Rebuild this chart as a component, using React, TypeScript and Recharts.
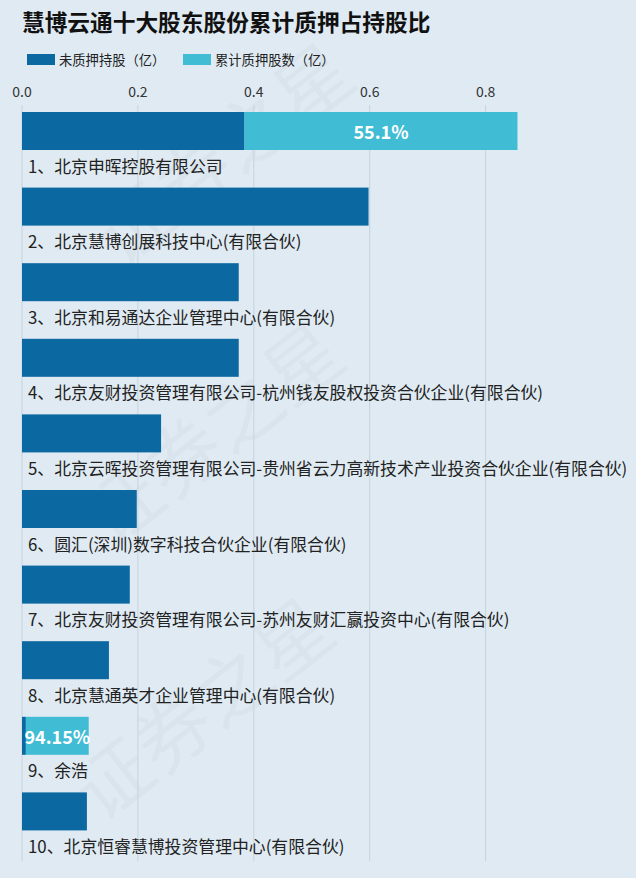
import React from 'react';
import { BarChart, Bar, XAxis, YAxis, CartesianGrid, LabelList } from 'recharts';

const categories = [
  '1、北京申晖控股有限公司',
  '2、北京慧博创展科技中心(有限合伙)',
  '3、北京和易通达企业管理中心(有限合伙)',
  '4、北京友财投资管理有限公司-杭州钱友股权投资合伙企业(有限合伙)',
  '5、北京云晖投资管理有限公司-贵州省云力高新技术产业投资合伙企业(有限合伙)',
  '6、圆汇(深圳)数字科技合伙企业(有限合伙)',
  '7、北京友财投资管理有限公司-苏州友财汇赢投资中心(有限合伙)',
  '8、北京慧通英才企业管理中心(有限合伙)',
  '9、余浩',
  '10、北京恒睿慧博投资管理中心(有限合伙)',
];
const unpledged = [0.384, 0.598, 0.374, 0.374, 0.24, 0.198, 0.186, 0.15, 0.0067, 0.112];
const pledged = [0.471, 0, 0, 0, 0, 0, 0, 0, 0.1084, 0];
const ratioLabels = ['55.1%', '', '', '', '', '', '', '', '94.15%', ''];
const xTicks = [0, 0.2, 0.4, 0.6, 0.8];
const X_MAX = 1;
const seriesNames = ['未质押持股（亿）', '累计质押股数（亿）'];
const title = '慧博云通十大股东股份累计质押占持股比';
const watermark = '证券之星';

const data = categories.map((name, i) => ({
  name,
  unpledged: unpledged[i],
  pledged: pledged[i],
  ratio: ratioLabels[i],
}));

const FONT = '"Noto Sans CJK SC", "Noto Sans", sans-serif';
const DARK = '#0b68a1';
const LIGHT = '#41bcd5';
const BG = '#dfeaf3';
const BAR_SHIFT = -12;

const ShiftedBar = (p: any) => (
  <rect x={p.x} y={p.y + BAR_SHIFT} width={Math.max(0, p.width || 0)} height={p.height} fill={p.fill} />
);

const NameLabel = (p: any) => (
  <text
    x={p.x + 6}
    y={p.y + BAR_SHIFT + p.height + 15}
    dominantBaseline="central"
    fontSize={16.85}
    fill="#222"
    fontFamily={FONT}
  >
    {p.value}
  </text>
);

const RatioLabel = (p: any) => {
  if (!p.value) return null;
  return (
    <text
      x={p.x + p.width / 2}
      y={p.y + BAR_SHIFT + p.height / 2}
      textAnchor="middle"
      dominantBaseline="central"
      fontSize={18}
      fontWeight="bold"
      fill="#ffffff"
      fontFamily={FONT}
    >
      {p.value}
    </text>
  );
};

const gridX = (props: any) => {
  const off = props && props.offset;
  if (off && typeof off.left === 'number' && typeof off.width === 'number') {
    return xTicks.map((t) => off.left + (t / X_MAX) * off.width);
  }
  return [];
};

const wmSpots = [
  [220, 150],
  [210, 430],
  [200, 705],
];

export default function App() {
  return (
    <div
      style={{
        position: 'fixed',
        left: 0,
        top: 0,
        width: 636,
        height: 878,
        background: BG,
        overflow: 'hidden',
        fontFamily: FONT,
      }}
    >
      {wmSpots.map(([cx, cy], i) => (
        <div
          key={i}
          style={{
            position: 'absolute',
            left: cx - 170,
            top: cy - 45,
            width: 340,
            height: 90,
            lineHeight: '90px',
            textAlign: 'center',
            fontSize: 76,
            color: 'rgba(0,0,0,0.022)',
            transform: 'rotate(-38deg)',
            whiteSpace: 'nowrap',
            pointerEvents: 'none',
          }}
        >
          {watermark}
        </div>
      ))}
      <div
        style={{
          position: 'absolute',
          left: 22,
          top: 8,
          fontSize: 22.7,
          lineHeight: '28px',
          fontWeight: 'bold',
          color: '#111',
          whiteSpace: 'nowrap',
        }}
      >
        {title}
      </div>
      {seriesNames.map((s, i) => (
        <div
          key={s}
          style={{
            position: 'absolute',
            left: i === 0 ? 27 : 183,
            top: 49,
            height: 20,
            display: 'flex',
            alignItems: 'center',
            fontSize: 13.3,
            color: '#222',
            whiteSpace: 'nowrap',
          }}
        >
          <span style={{ display: 'inline-block', width: 28, height: 11, background: i === 0 ? DARK : LIGHT, marginRight: 4 }} />
          {s}
        </div>
      ))}
      <div style={{ position: 'absolute', left: 0, top: 0 }}>
        <BarChart
          width={636}
          height={878}
          data={data}
          layout="vertical"
          margin={{ top: 75, right: 34.5, bottom: 17, left: 22 }}
          barSize={38}
        >
          <CartesianGrid horizontal={false} stroke="#c6d3dd" verticalCoordinatesGenerator={gridX} />
          <XAxis
            type="number"
            orientation="top"
            domain={[0, X_MAX]}
            ticks={xTicks}
            tickFormatter={(v: number) => v.toFixed(1)}
            axisLine={false}
            tickLine={false}
            height={30}
            tick={{ fontSize: 14, fill: '#333', fontFamily: FONT }}
          />
          <YAxis
            type="category"
            dataKey="name"
            width={0}
            tick={false}
            tickLine={false}
            axisLine={{ stroke: '#333', strokeWidth: 2 }}
          />
          <Bar dataKey="unpledged" stackId="a" fill={DARK} shape={ShiftedBar} isAnimationActive={false}>
            <LabelList dataKey="name" content={NameLabel} />
          </Bar>
          <Bar dataKey="pledged" stackId="a" fill={LIGHT} shape={ShiftedBar} isAnimationActive={false}>
            <LabelList dataKey="ratio" content={RatioLabel} />
          </Bar>
        </BarChart>
      </div>
    </div>
  );
}
